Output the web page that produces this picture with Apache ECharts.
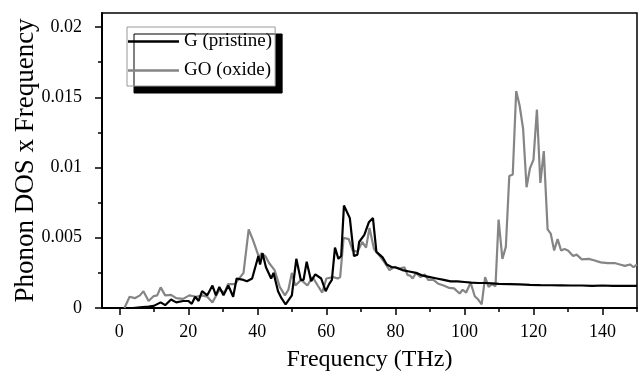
<!DOCTYPE html>
<html>
<head>
<meta charset="utf-8">
<script src="https://cdn.jsdelivr.net/npm/echarts@6/dist/echarts.min.js"></script>
<style>html,body{margin:0;padding:0;background:#fff;}#c{width:639px;height:377px;}</style>
</head>
<body>
<div id="c"></div>
<script>
const seriesNames = ['G (pristine)', 'GO (oxide)'];
const xMajorTicks = [0, 20, 40, 60, 80, 100, 120, 140];
const xMinorTicks = [10, 30, 50, 70, 90, 110, 130, 150];
const yMajorTicks = [0, 0.005, 0.01, 0.015, 0.02];
const yMinorTicks = [0.0025, 0.0075, 0.0125, 0.0175];

const gFreq = [4, 6, 8.5, 10, 12, 13.3, 15, 16.5, 18.5, 20, 21, 22, 23, 24, 25.5, 27, 28, 29, 30.2, 31.6, 33, 34, 36, 37, 38.5, 40.3, 40.8, 41.5, 42.5, 44, 44.7, 46, 47, 48.2, 50, 51.3, 52.6, 53.4, 54.3, 55.6, 56.8, 58.5, 59.8, 60.8, 61.6, 62.5, 63.5, 64.3, 65.1, 66.8, 68, 69, 69.5, 71, 72.3, 73.5, 74.5, 76.3, 77.5, 79, 80, 82, 84, 86, 88, 90, 92, 94, 96, 98, 100, 102, 104, 106, 108, 110, 113, 116, 119, 122, 125, 128, 131, 134, 137, 140, 143, 146, 150];
const gVal = [0, 0.00005, 0.0001, 0.00015, 0.0004, 0.0002, 0.0006, 0.0004, 0.0005, 0.0005, 0.0003, 0.0008, 0.0005, 0.0012, 0.0009, 0.0016, 0.0009, 0.0015, 0.0009, 0.0016, 0.0008, 0.0021, 0.0020, 0.0019, 0.0021, 0.0037, 0.0031, 0.0039, 0.0029, 0.0021, 0.0025, 0.0012, 0.0007, 0.00025, 0.0009, 0.0035, 0.0020, 0.0020, 0.0033, 0.0019, 0.0024, 0.0021, 0.0012, 0.0017, 0.0020, 0.0043, 0.0035, 0.0037, 0.0073, 0.0064, 0.0037, 0.0038, 0.0047, 0.0052, 0.0061, 0.0064, 0.0040, 0.0036, 0.0031, 0.0029, 0.0029, 0.0027, 0.0026, 0.0025, 0.0023, 0.0022, 0.0021, 0.0020, 0.0019, 0.0019, 0.00185, 0.0018, 0.00178, 0.00178, 0.00175, 0.00172, 0.0017, 0.00168, 0.00165, 0.00163, 0.00162, 0.00161, 0.0016, 0.0016, 0.00158, 0.0016, 0.00158, 0.00157, 0.00157];

const goFreq = [1.5, 3, 4.5, 6, 7, 8.5, 10, 11, 12, 13.3, 15, 16.5, 18.5, 20.3, 22.3, 24, 25.5, 27, 29, 30.5, 31.5, 33.5, 36, 37.5, 38.8, 40.5, 41.2, 42.3, 43.4, 45, 46.5, 48, 49, 50, 51, 52.7, 54.5, 56, 57.5, 58.8, 60, 62, 63.3, 64, 65, 66.5, 67.6, 69, 70.4, 71.5, 72.5, 73.8, 75.5, 77, 78.3, 79.5, 81.2, 82.6, 83.5, 84.3, 85, 86, 87.3, 88.5, 89.5, 91, 92.4, 94, 95.6, 97, 98.6, 99.5, 100.5, 101.8, 103, 104, 105, 106, 107, 108, 109, 109.9, 111, 112, 113, 114, 115, 116, 117, 118, 119, 120, 121, 122, 123, 124.1, 125, 126, 127, 128, 129, 130, 131.5, 132.5, 134, 136, 137.5, 139.5, 141.5, 143.5, 145, 146.5, 148, 149, 150];
const goVal = [0, 0.0008, 0.0007, 0.0009, 0.0012, 0.0005, 0.00085, 0.0009, 0.00147, 0.0009, 0.00093, 0.0007, 0.00065, 0.0009, 0.0008, 0.0009, 0.0008, 0.0004, 0.0013, 0.0011, 0.0017, 0.0017, 0.0025, 0.0056, 0.0048, 0.0036, 0.0039, 0.0037, 0.0032, 0.0027, 0.0015, 0.0009, 0.0013, 0.0025, 0.0016, 0.0020, 0.0016, 0.0022, 0.0016, 0.0011, 0.0021, 0.0022, 0.0021, 0.0022, 0.0050, 0.0049, 0.0041, 0.0040, 0.0047, 0.0043, 0.0057, 0.0042, 0.0037, 0.0032, 0.0027, 0.0029, 0.0028, 0.0029, 0.00236, 0.0023, 0.0021, 0.0025, 0.0022, 0.0024, 0.0020, 0.0020, 0.00173, 0.0016, 0.00143, 0.0014, 0.00103, 0.0013, 0.0011, 0.0018, 0.00084, 0.0006, 0.00026, 0.0022, 0.0015, 0.0017, 0.00155, 0.0063, 0.0035, 0.00435, 0.0094, 0.0095, 0.01545, 0.0144, 0.01276, 0.0086, 0.00996, 0.01054, 0.01412, 0.0089, 0.01117, 0.0056, 0.0053, 0.0041, 0.0049, 0.0041, 0.0042, 0.0041, 0.0037, 0.0038, 0.00346, 0.0035, 0.0034, 0.00325, 0.0032, 0.0032, 0.0031, 0.0030, 0.0031, 0.0029, 0.0031];

const FONT = 'Liberation Serif';
const chart = echarts.init(document.getElementById('c'), null, {renderer: 'canvas'});
const txt = {fontFamily: FONT, color: '#000'};
const option = {
  animation: false,
  backgroundColor: '#fff',
  grid: {left: 102, right: 2, top: 13, bottom: 65, show: true, borderColor: '#000', borderWidth: 1.5, backgroundColor: 'transparent'},
  legend: {
    orient: 'vertical', left: 127, top: 27,
    data: seriesNames,
    icon: 'rect',
    backgroundColor: '#fff', borderColor: '#999', borderWidth: 1,
    shadowColor: '#000', shadowBlur: 0, shadowOffsetX: 7, shadowOffsetY: 7,
    padding: [5, 3, 6, 1], itemGap: 10, itemWidth: 51, itemHeight: 2.5, itemTextGap: 3,
    textStyle: Object.assign({fontSize: 19}, txt)
  },
  xAxis: [{
    type: 'value', min: -5, max: 150, position: 'bottom',
    name: 'Frequency (THz)', nameLocation: 'middle', nameGap: 40, nameMoveOverlap: false,
    nameTextStyle: Object.assign({fontSize: 24}, txt),
    axisLine: {show: true, onZero: false, lineStyle: {color: '#000', width: 2}},
    axisTick: {show: true, inside: false, length: 7, customValues: xMajorTicks, lineStyle: {color: '#000', width: 1.5}},
    axisLabel: Object.assign({customValues: xMajorTicks, margin: 15, fontSize: 18}, txt),
    splitLine: {show: false}
  }, {
    type: 'value', min: -5, max: 150, position: 'bottom',
    axisLine: {show: false, onZero: false},
    axisTick: {show: true, inside: false, length: 4, customValues: xMinorTicks, lineStyle: {color: '#000', width: 1.5}},
    axisLabel: {show: false},
    splitLine: {show: false}
  }],
  yAxis: [{
    type: 'value', min: 0, max: 0.021, position: 'left',
    name: 'Phonon DOS x Frequency', nameLocation: 'middle', nameGap: 63, nameRotate: 90, nameMoveOverlap: false,
    nameTextStyle: Object.assign({fontSize: 27}, txt),
    axisLine: {show: true, onZero: false, lineStyle: {color: '#000', width: 2}},
    axisTick: {show: true, inside: false, length: 7, customValues: yMajorTicks, lineStyle: {color: '#000', width: 1.5}},
    axisLabel: Object.assign({customValues: yMajorTicks, margin: 20, fontSize: 18, formatter: v => String(v)}, txt),
    splitLine: {show: false}
  }, {
    type: 'value', min: 0, max: 0.021, position: 'left',
    axisLine: {show: false, onZero: false},
    axisTick: {show: true, inside: false, length: 4, customValues: yMinorTicks, lineStyle: {color: '#000', width: 1.5}},
    axisLabel: {show: false},
    splitLine: {show: false}
  }],
  series: [{
    name: seriesNames[1], type: 'line', xAxisIndex: 0, yAxisIndex: 0, z: 2,
    symbol: 'none', color: '#858585', lineStyle: {color: '#858585', width: 2.2},
    data: goFreq.map((f, i) => [f, goVal[i]])
  }, {
    name: seriesNames[0], type: 'line', xAxisIndex: 0, yAxisIndex: 0, z: 3,
    symbol: 'none', color: '#000', lineStyle: {color: '#000', width: 2.2},
    data: gFreq.map((f, i) => [f, gVal[i]])
  }]
};
chart.setOption(option);
</script>
</body>
</html>
